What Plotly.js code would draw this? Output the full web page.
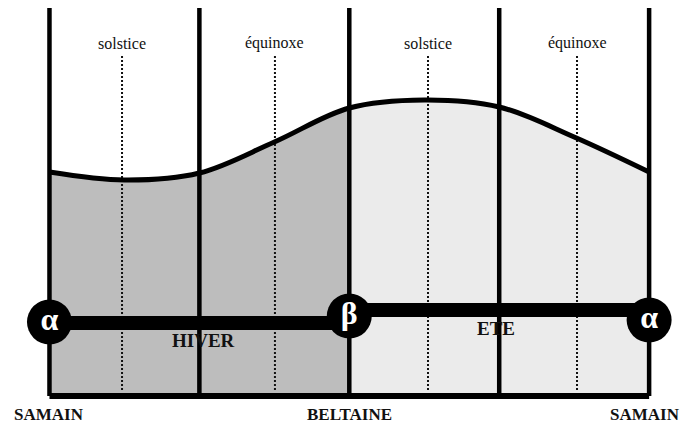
<!DOCTYPE html>
<html>
<head>
<meta charset="utf-8">
<script src="https://cdn.plot.ly/plotly-3.0.1.min.js"></script>
<style>html,body{margin:0;padding:0;background:#fff;}#chart{width:680px;height:423px;}</style>
</head>
<body>
<div id="chart"></div>
<script>
// Season positions (quarters of the year) and curve heights
const curveX = [0, 0.5, 1, 1.5, 2, 2.5, 3, 3.5, 4];
const curveY = [224, 216, 223, 254, 288, 296, 289, 259, 224];
const winterX = [0, 0.5, 1, 1.5, 2];
const winterY = [224, 216, 223, 254, 288];
const summerX = [2, 2.5, 3, 3.5, 4];
const summerY = [288, 296, 289, 259, 224];

const dividerX = [0, 1, 2, 3, 4];
const dividerTop = 388;
const midX = [0.484, 1.504, 2.525, 3.519];
const midLabels = ["solstice", "équinoxe", "solstice", "équinoxe"];
const midTop = 342, midBottom = 6, midLabelY = 353;

const winterBarX = [0, 2], winterBarY = [73, 73];
const summerBarX = [2, 4], summerBarY = [86, 86];

const nodeX = [0, 2, 4];
const nodeY = [74, 80, 76];
const nodeLabels = ["α", "β", "α"];

const seasonLabels = ["HIVER", "ETE"];
const seasonX = [1.03, 2.98];
const seasonY = [56, 68];

const feastLabels = ["SAMAIN", "BELTAINE", "SAMAIN"];
const feastX = [0, 2.0, 3.97];
const feastY = -18;

const serif = "Liberation Serif";
const traces = [];

traces.push({x: winterX, y: winterY, mode: 'lines', line: {shape: 'spline', width: 0, color: 'rgba(0,0,0,0)'},
  fill: 'tozeroy', fillcolor: '#bdbdbd', hoverinfo: 'skip'});
traces.push({x: summerX, y: summerY, mode: 'lines', line: {shape: 'spline', width: 0, color: 'rgba(0,0,0,0)'},
  fill: 'tozeroy', fillcolor: '#ebebeb', hoverinfo: 'skip'});

midX.forEach(function (mx) {
  traces.push({x: [mx, mx], y: [midBottom, midTop], mode: 'lines',
    line: {color: '#111', width: 2, dash: '2px,2px'}, hoverinfo: 'skip'});
});

dividerX.forEach(function (dx) {
  traces.push({x: [dx, dx], y: [0, dividerTop], mode: 'lines',
    line: {color: '#000', width: 4.5}, hoverinfo: 'skip'});
});

traces.push({x: [dividerX[0], dividerX[4]], y: [0, 0], mode: 'lines',
  line: {color: '#000', width: 6}, hoverinfo: 'skip'});

traces.push({x: curveX, y: curveY, mode: 'lines', line: {shape: 'spline', width: 5, color: '#000'}, hoverinfo: 'skip'});

traces.push({x: winterBarX, y: winterBarY, mode: 'lines', line: {width: 14, color: '#000'}, hoverinfo: 'skip'});
traces.push({x: summerBarX, y: summerBarY, mode: 'lines', line: {width: 14, color: '#000'}, hoverinfo: 'skip'});

traces.push({x: nodeX, y: nodeY, mode: 'markers+text', text: nodeLabels, textposition: 'middle center',
  textfont: {family: serif, size: 32, color: '#fff', weight: 'bold'},
  marker: {size: 45, color: '#000', line: {width: 0}}, cliponaxis: false, hoverinfo: 'skip'});

const annotations = [];
midX.forEach(function (mx, i) {
  annotations.push({x: mx, y: midLabelY, xref: 'x', yref: 'y', text: midLabels[i], showarrow: false,
    font: {family: serif, size: 16, color: '#111'}});
});
seasonLabels.forEach(function (s, i) {
  annotations.push({x: seasonX[i], y: seasonY[i], xref: 'x', yref: 'y', text: '<b>' + s + '</b>', showarrow: false,
    font: {family: serif, size: 19, color: '#111'}});
});
feastLabels.forEach(function (s, i) {
  annotations.push({x: feastX[i], y: feastY, xref: 'x', yref: 'y', text: '<b>' + s + '</b>', showarrow: false,
    font: {family: serif, size: 17, color: '#111'}});
});

const layout = {
  width: 680, height: 423,
  margin: {l: 0, r: 0, t: 0, b: 0, pad: 0},
  paper_bgcolor: '#fff', plot_bgcolor: '#fff',
  showlegend: false,
  font: {family: serif},
  xaxis: {range: [-0.330, 4.206], visible: false, fixedrange: true},
  yaxis: {range: [-27, 396], visible: false, fixedrange: true},
  annotations: annotations
};

Plotly.newPlot('chart', traces, layout, {staticPlot: true, displayModeBar: false});
</script>
</body>
</html>
